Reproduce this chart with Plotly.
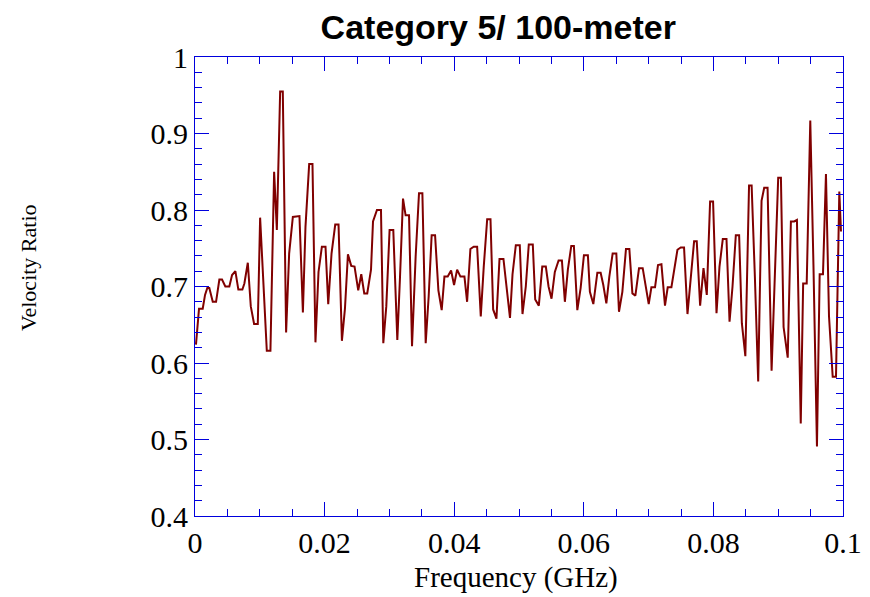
import plotly.graph_objects as go

# Frequency sweep (MHz, converted to GHz below) and measured velocity ratio
freq_mhz = [
    0.15, 0.62, 1.19, 1.55, 1.90, 2.21, 2.74, 3.25, 3.76, 4.17,
    4.68, 5.30, 5.72, 6.23, 6.69, 7.31, 7.62, 8.15, 8.61, 9.12,
    9.69, 10.05, 11.08, 11.64, 12.21, 12.63, 13.14, 13.55, 14.06, 14.53,
    15.10, 16.12, 16.65, 17.05, 17.62, 18.13, 18.59, 19.06, 19.58, 20.14,
    20.56, 21.07, 21.64, 22.15, 22.67, 23.14, 23.60, 24.11, 24.62, 25.19,
    25.66, 26.12, 26.58, 27.16, 27.47, 28.08, 28.70, 29.06, 29.52, 30.03,
    30.60, 31.22, 31.64, 32.10, 32.50, 33.03, 33.49, 34.05, 34.57, 35.09,
    35.60, 36.06, 36.52, 37.05, 37.56, 38.07, 38.49, 39.00, 39.52, 39.98,
    40.45, 40.96, 41.58, 41.99, 42.50, 43.01, 43.54, 44.10, 44.56, 45.09,
    45.60, 46.01, 46.52, 46.99, 47.60, 48.11, 48.61, 49.00, 49.51, 50.12,
    50.54, 51.05, 51.51, 52.13, 52.50, 53.06, 53.59, 54.14, 54.56, 55.02,
    55.53, 56.11, 56.62, 57.08, 57.54, 58.07, 58.47, 59.00, 59.51, 60.02,
    60.63, 60.94, 61.47, 62.09, 62.60, 63.01, 63.48, 63.94, 64.45, 65.02,
    65.43, 65.95, 66.51, 67.03, 67.50, 67.96, 68.52, 69.09, 69.55, 70.02,
    70.43, 70.99, 71.45, 71.98, 72.53, 72.95, 73.52, 73.93, 74.45, 74.96,
    75.47, 76.00, 76.51, 77.02, 77.43, 77.95, 78.47, 78.98, 79.49, 79.95,
    80.48, 80.94, 81.45, 82.02, 82.49, 82.95, 83.46, 83.97, 84.39, 84.93,
    85.50, 85.90, 86.40, 86.91, 87.43, 87.84, 88.36, 88.98, 89.38, 90.00,
    90.42, 90.83, 91.47, 91.96, 92.47, 92.89, 93.48, 93.85, 94.40, 94.95,
    95.44, 95.98, 96.40, 96.91, 97.37, 97.84, 98.41, 98.92, 99.43, 99.69,
]

velocity_ratio = [
    0.624, 0.671, 0.671, 0.689, 0.698, 0.698, 0.680, 0.680, 0.709, 0.709,
    0.700, 0.700, 0.715, 0.720, 0.696, 0.696, 0.704, 0.731, 0.674, 0.651,
    0.651, 0.790, 0.616, 0.616, 0.850, 0.774, 0.955, 0.955, 0.640, 0.743,
    0.791, 0.792, 0.666, 0.778, 0.860, 0.860, 0.627, 0.719, 0.752, 0.752,
    0.677, 0.743, 0.781, 0.781, 0.629, 0.671, 0.742, 0.727, 0.726, 0.695,
    0.716, 0.691, 0.691, 0.722, 0.785, 0.800, 0.800, 0.626, 0.674, 0.774,
    0.774, 0.630, 0.713, 0.815, 0.793, 0.793, 0.622, 0.739, 0.822, 0.822,
    0.626, 0.687, 0.767, 0.767, 0.695, 0.669, 0.713, 0.713, 0.721, 0.702,
    0.722, 0.713, 0.713, 0.680, 0.749, 0.752, 0.752, 0.661, 0.726, 0.788,
    0.788, 0.670, 0.658, 0.736, 0.736, 0.700, 0.659, 0.716, 0.754, 0.754,
    0.664, 0.700, 0.755, 0.755, 0.683, 0.675, 0.726, 0.726, 0.700, 0.684,
    0.719, 0.734, 0.734, 0.680, 0.722, 0.753, 0.753, 0.669, 0.698, 0.741,
    0.741, 0.693, 0.677, 0.718, 0.718, 0.702, 0.678, 0.713, 0.743, 0.743,
    0.667, 0.693, 0.749, 0.749, 0.691, 0.688, 0.724, 0.724, 0.700, 0.677,
    0.699, 0.699, 0.728, 0.729, 0.675, 0.699, 0.699, 0.722, 0.748, 0.751,
    0.751, 0.664, 0.713, 0.759, 0.759, 0.675, 0.724, 0.689, 0.811, 0.811,
    0.665, 0.726, 0.762, 0.762, 0.654, 0.700, 0.767, 0.767, 0.652, 0.609,
    0.832, 0.832, 0.713, 0.576, 0.812, 0.829, 0.829, 0.590, 0.689, 0.842,
    0.842, 0.647, 0.607, 0.785, 0.785, 0.787, 0.521, 0.704, 0.704, 0.917,
    0.728, 0.491, 0.716, 0.716, 0.847, 0.661, 0.582, 0.582, 0.824, 0.772,
]

freq_ghz = [f / 1000.0 for f in freq_mhz]

title_text = "Category 5/ 100-meter"
x_title = "Frequency (GHz)"
y_title = "Velocity Ratio"

AXIS_BLUE = "#0000dd"
LINE_RED = "#800000"
SERIF = "Liberation Serif, Times New Roman, serif"

fig = go.Figure()
fig.add_trace(go.Scatter(
    x=freq_ghz, y=velocity_ratio, mode="lines",
    line=dict(color=LINE_RED, width=2),
    showlegend=False, hoverinfo="x+y",
))

common_axis = dict(
    showline=True, linecolor=AXIS_BLUE, linewidth=1,
    mirror="ticks", ticks="inside", tickcolor=AXIS_BLUE, tickwidth=1,
    ticklen=14, showgrid=False, zeroline=False,
    tickfont=dict(family=SERIF, size=30, color="black"),
)

fig.update_xaxes(
    range=[0, 0.1], tick0=0, dtick=0.02,
    minor=dict(dtick=0.005, ticks="inside", ticklen=7, tickcolor=AXIS_BLUE, tickwidth=1, showgrid=False),
    **common_axis,
)
fig.update_yaxes(
    range=[0.4, 1.0], tick0=0.4, dtick=0.1,
    minor=dict(dtick=0.02, ticks="inside", ticklen=7, tickcolor=AXIS_BLUE, tickwidth=1, showgrid=False),
    **common_axis,
)

# The page body has an 8px margin, so the figure is sized to fit the window.
W, H = 866, 589
fig.update_layout(
    width=W, height=H,
    margin=dict(l=187, r=28, t=49, b=81),
    paper_bgcolor="white", plot_bgcolor="white",
    title=dict(
        text=f"<b>{title_text}</b>",
        font=dict(family="Liberation Sans, Arial, sans-serif", size=34, color="black"),
        x=0.468, xref="paper", xanchor="center",
        y=1 - 19 / H, yref="container", yanchor="middle",
    ),
    annotations=[
        dict(text=x_title, xref="paper", yref="paper", x=0.496, y=-0.135,
             showarrow=False, xanchor="center", yanchor="middle",
             font=dict(family=SERIF, size=29, color="black")),
        dict(text=y_title, xref="paper", yref="paper", x=-0.258, y=0.54,
             showarrow=False, xanchor="center", yanchor="middle", textangle=-90,
             font=dict(family=SERIF, size=22, color="black")),
    ],
)

fig.write_html("out.html")
